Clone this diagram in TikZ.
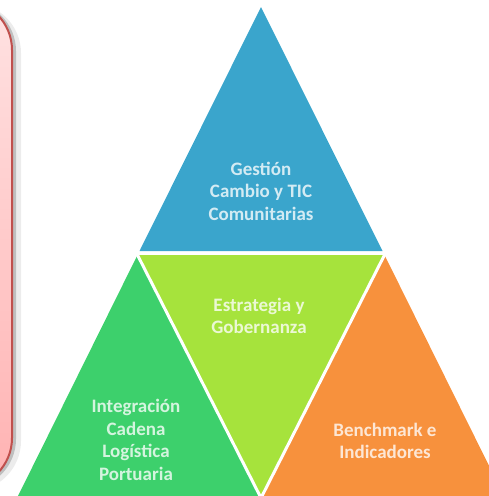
\documentclass[tikz,border=0pt]{standalone}
\usepackage{fontspec}
\setmainfont{Carlito}
\definecolor{tblue}{HTML}{3AA5CC}
\definecolor{tgreen}{HTML}{3DD06C}
\definecolor{tlime}{HTML}{A6E33C}
\definecolor{torange}{HTML}{F7913D}
\definecolor{boxred}{HTML}{C0504D}
\definecolor{pinktop}{HTML}{FFE2E2}
\definecolor{pinkbot}{HTML}{FFB2B2}
\begin{document}
\begin{tikzpicture}[x=1pt,y=-1pt,
  lbl/.style={text=white, text opacity=0.78, font=\fontsize{19}{22.5}\selectfont\bfseries, align=center, inner sep=0pt},
  gap/.style={white, line width=3pt}
]
\useasboundingbox (0,0) rectangle (489,496);
\begin{scope}
\clip (0,0) rectangle (489,496);
% left pink box with shadow
\fill[gray!15, rounded corners=50] (-120,3) rectangle (21,491);
\fill[gray!50, rounded corners=50] (-120,1) rectangle (16,489);
\shade[top color=pinktop, bottom color=pinkbot, rounded corners=50] (-120,0) rectangle (12,488);
\draw[boxred, line width=2pt, rounded corners=50] (-120,0) rectangle (12,488);
% pyramid
\fill[tblue] (261,7) -- (382.5,251) -- (139.5,251) -- cycle;
\fill[tgreen] (137.5,255) -- (261,498) -- (17,498) -- cycle;
\fill[tlime] (137.5,255) -- (384.5,255) -- (261,498) -- cycle;
\fill[torange] (384.5,255) -- (505,498) -- (261,498) -- cycle;
\draw[gap] (137.5,255) -- (261,498) -- (384.5,255);
\end{scope}
\node[lbl] (gestion) at (261,191) {Gestión\\Cambio y TIC\\Comunitarias};
\node[lbl] (estrategia) at (259,316) {Estrategia y\\Gobernanza};
\node[lbl] (integracion) at (136,440) {Integración\\Cadena\\Logística\\Portuaria};
\node[lbl] (benchmark) at (385,441) {Benchmark e\\Indicadores};
\end{tikzpicture}
\end{document}
